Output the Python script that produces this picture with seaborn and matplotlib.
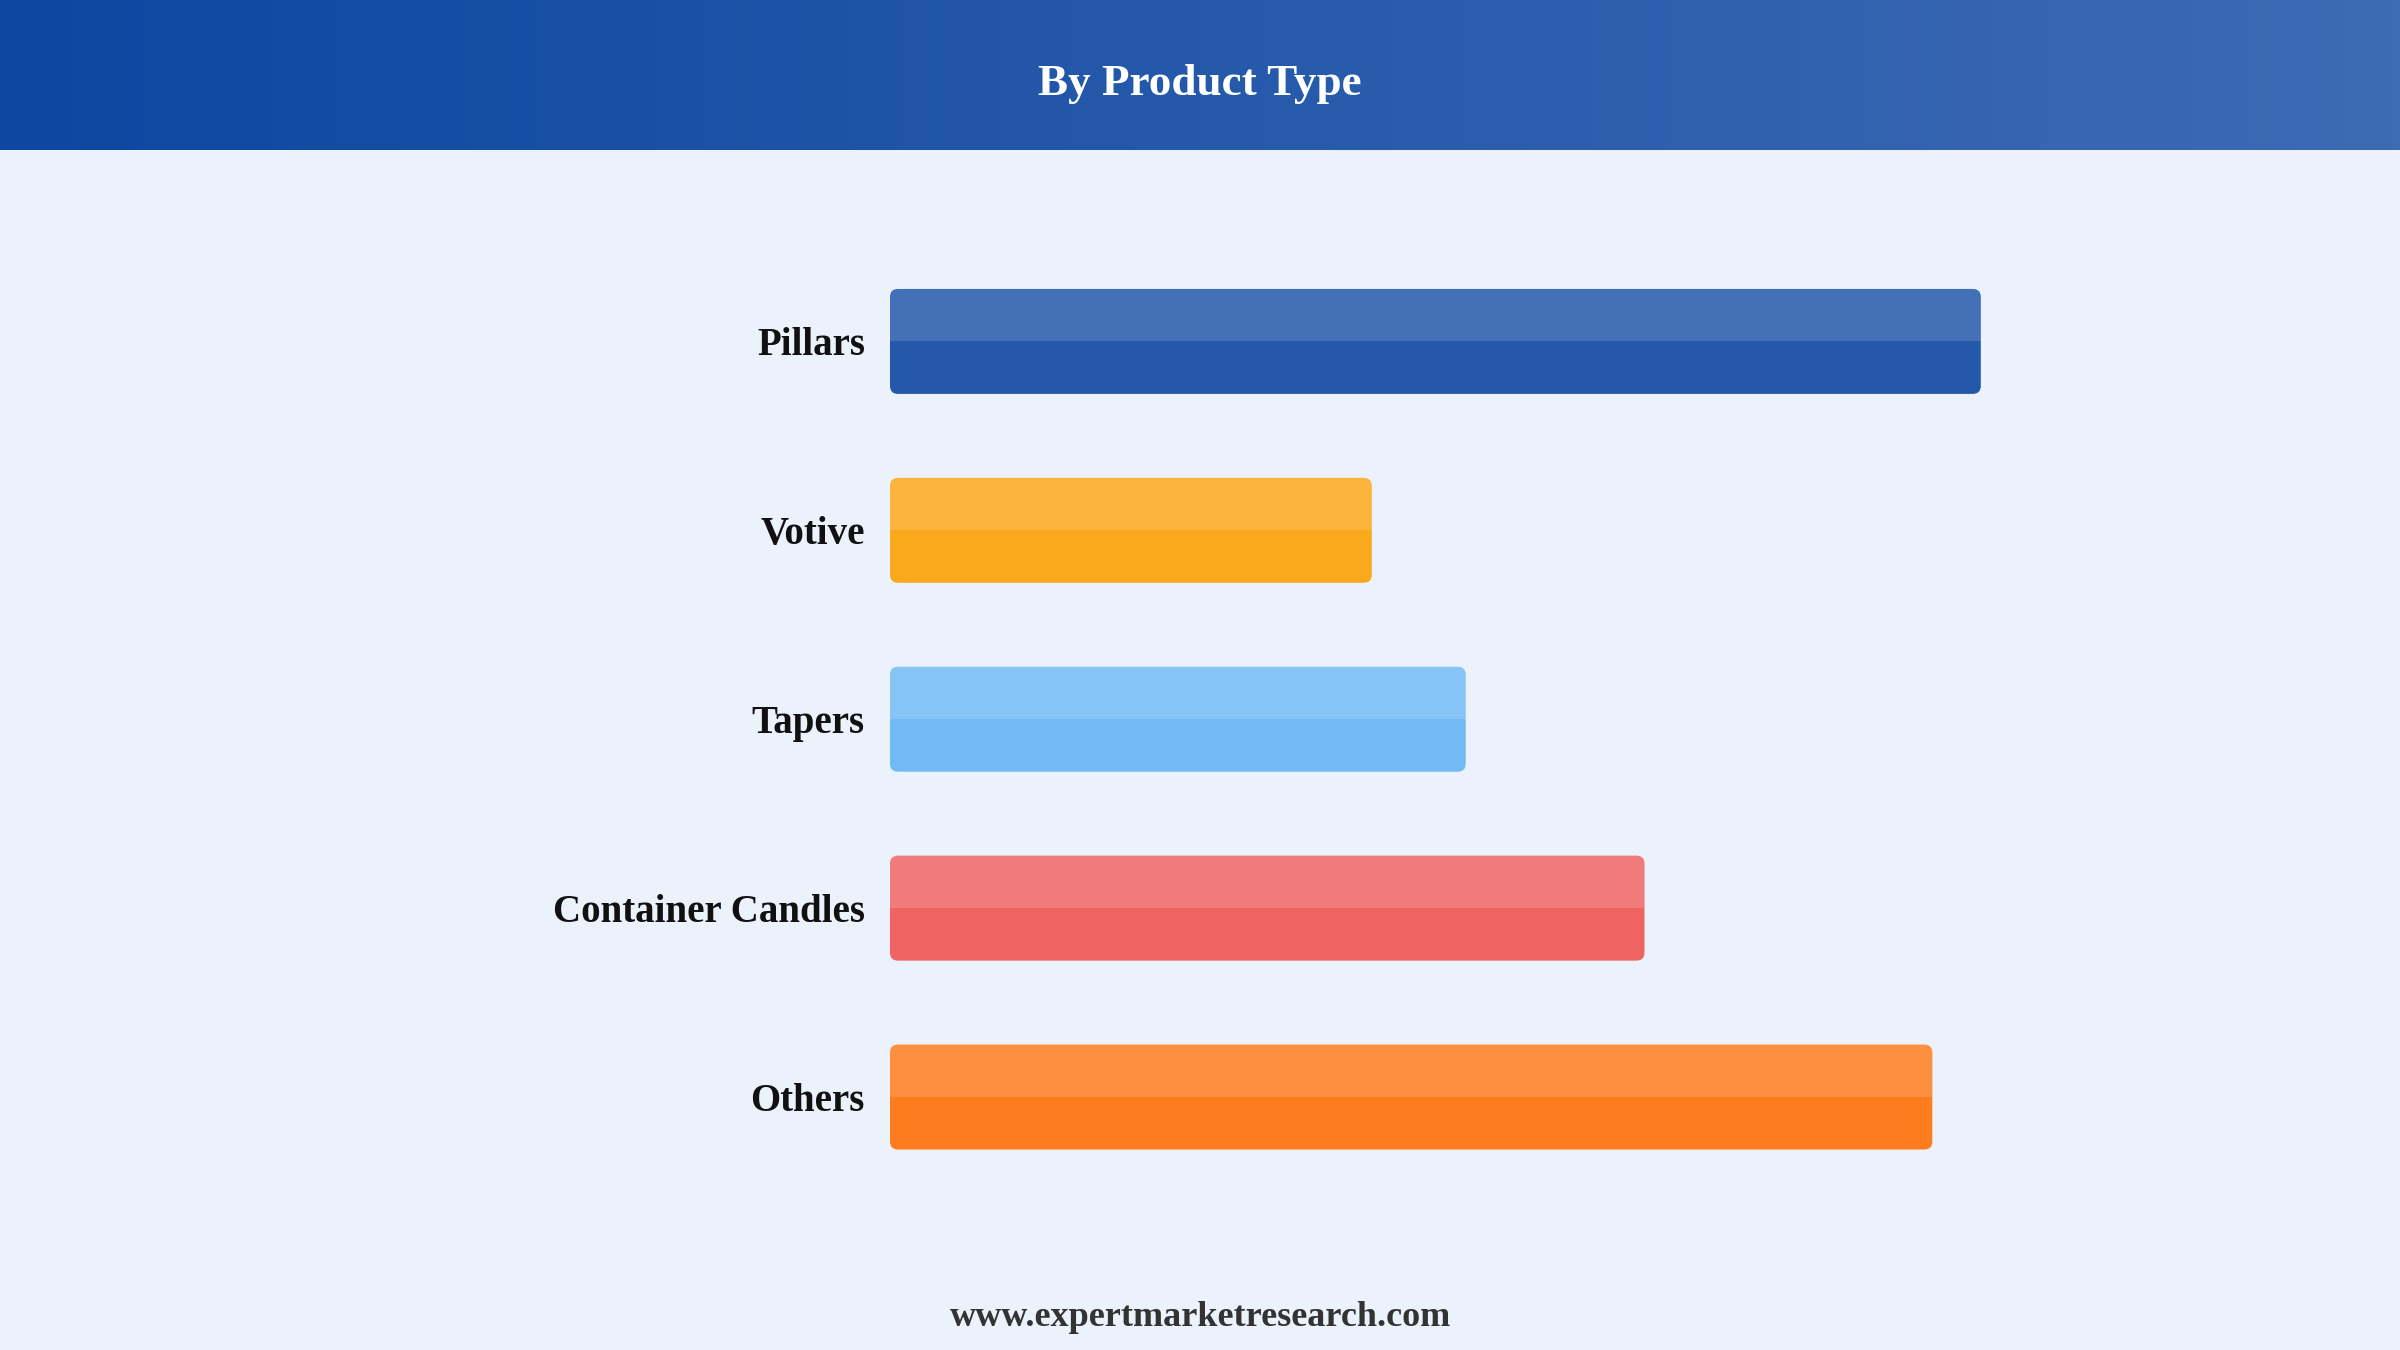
import numpy as np
import pandas as pd
import matplotlib
matplotlib.use("Agg")
import matplotlib.pyplot as plt
import seaborn as sns
from matplotlib.patches import FancyBboxPatch, Rectangle

# ---------------------------------------------------------------------------
# Data (relative bar lengths)
# ---------------------------------------------------------------------------
categories = ["Pillars", "Votive", "Tapers", "Container Candles", "Others"]
values = [36.0, 15.9, 19.0, 24.9, 34.4]
bar_colors = ["#2358AA", "#FBA91C", "#71BAF5", "#EF6463", "#FD7D1E"]

title = "By Product Type"
footer = "www.expertmarketresearch.com"

BG = "#EBF2FC"

sns.set_theme(style="white")
plt.rcParams["font.family"] = ["Liberation Serif", "DejaVu Serif"]

fig = plt.figure(figsize=(24, 13.5), dpi=100, facecolor=BG)

# header band with horizontal gradient
hdr = fig.add_axes([0, 1 - 150 / 1350, 1, 150 / 1350])
grad = np.linspace(0, 1, 512).reshape(1, -1)
cmap = matplotlib.colors.LinearSegmentedColormap.from_list("hdr", ["#0D47A1", "#3D6BB4"])
hdr.imshow(grad, aspect="auto", cmap=cmap, extent=[0, 1, 0, 1])
hdr.set_axis_off()
hdr.text(0.5, 0.44, title, ha="center", va="center", color="white",
         fontsize=32.5, fontweight="bold", transform=hdr.transAxes)

# main bar axes
left, right = 890 / 2400, 2102 / 2400
top_px, bot_px = 341.5 - 189 * 0.8, 1097 + 189 * 0.8
ax = fig.add_axes([left, 1 - bot_px / 1350, right - left, (bot_px - top_px) / 1350])
ax.set_facecolor(BG)

df = pd.DataFrame({"category": categories, "value": values})
sns.barplot(data=df, x="value", y="category", hue="category", palette=bar_colors,
            orient="h", width=105 / 189, legend=False, ax=ax, saturation=1)
ax.set_xlim(0, 40)
ax.set_ylim(len(categories) - 1 + 0.8, -0.8)

# replace plain bars with rounded, two-tone ones
fig.canvas.draw()
x_per_px = 40 / (ax.get_window_extent().width)
y_per_px = (len(categories) - 1 + 1.6) / (ax.get_window_extent().height)
radius_px = 8
for p in list(ax.patches):
    x0, y0 = p.get_x(), p.get_y()
    w, h = p.get_width(), p.get_height()
    col = p.get_facecolor()
    p.remove()
    rb = FancyBboxPatch((x0, y0), w, h,
                        boxstyle=f"round,pad=0,rounding_size={radius_px * x_per_px}",
                        mutation_aspect=y_per_px / x_per_px,
                        facecolor=col, edgecolor="none", zorder=2)
    ax.add_patch(rb)
    hl = Rectangle((x0, y0), w, h / 2, facecolor="white", alpha=0.15,
                   edgecolor="none", zorder=3)
    ax.add_patch(hl)
    hl.set_clip_path(rb)

ax.set_xlabel("")
ax.set_ylabel("")
ax.set_xticks([])
ax.tick_params(axis="y", length=0, pad=18)
for lbl in ax.get_yticklabels():
    lbl.set_fontsize(28)
    lbl.set_fontweight("bold")
    lbl.set_color("#111111")
sns.despine(ax=ax, left=True, bottom=True)

fig.text(0.5, 1 - 1317 / 1350, footer, ha="center", va="center",
         fontsize=26, fontweight="bold", color="#333333")

fig.savefig("out.png", dpi=100, facecolor=BG)
